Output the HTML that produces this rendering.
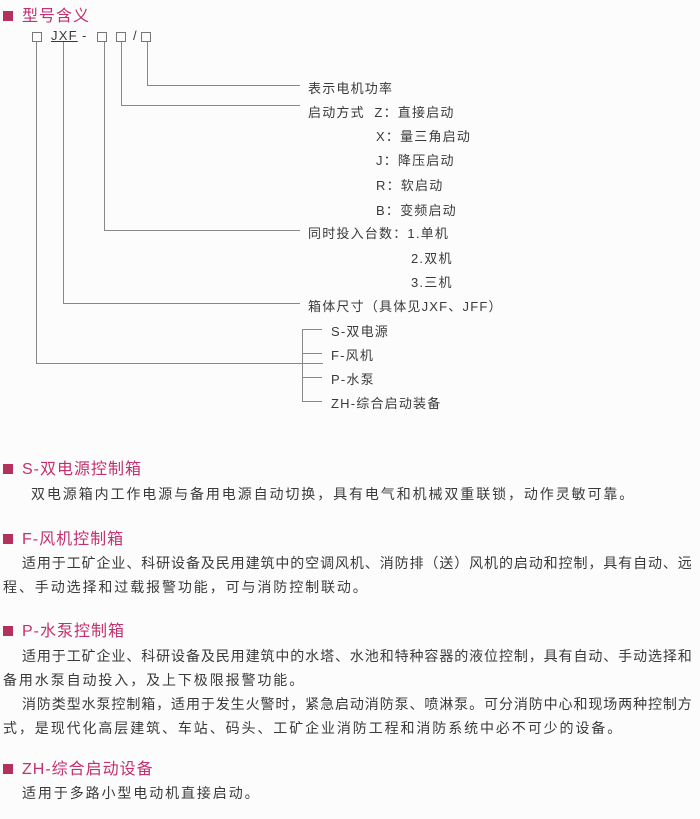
<!DOCTYPE html>
<html><head><meta charset="utf-8"><style>
body{margin:0;width:700px;height:819px;background:#fdfcfc;position:relative;overflow:hidden;font-family:"Liberation Sans","Noto Sans CJK SC",sans-serif;color:#3a3a3a}
.a{position:absolute;white-space:nowrap}
.h{font-size:16px;color:#c2306f;letter-spacing:1px}
.h:before{content:"";display:inline-block;width:10px;height:10px;background:#b3305f;margin-right:9px;vertical-align:0px}
.l{font-size:13px;letter-spacing:1.2px}
.b{font-size:14px;letter-spacing:1.9px}
.j{text-align:justify;text-align-last:justify;white-space:nowrap;letter-spacing:0.2px}
.box{position:absolute;width:8px;height:8px;border:1px solid #777;top:32px}
.v{position:absolute;width:1px;background:#888}
.hz{position:absolute;height:1px;background:#888}
</style></head><body>
<div class="a h" style="left:3px;top:2px">型号含义</div>
<div class="box" style="left:32px"></div>
<div class="a l" style="left:51px;top:28px;text-decoration:underline">JXF</div>
<div class="a l" style="left:82px;top:28px">-</div>
<div class="box" style="left:97px"></div>
<div class="box" style="left:116px"></div>
<div class="a l" style="left:133px;top:28px">/</div>
<div class="box" style="left:141px"></div>

<div class="v" style="left:36px;top:42px;height:322px"></div>
<div class="hz" style="left:36px;top:363px;width:287px"></div>
<div class="v" style="left:63px;top:42px;height:262px"></div>
<div class="hz" style="left:63px;top:303px;width:237px"></div>
<div class="v" style="left:104px;top:42px;height:189px"></div>
<div class="hz" style="left:104px;top:230px;width:196px"></div>
<div class="v" style="left:121px;top:42px;height:64px"></div>
<div class="hz" style="left:121px;top:105px;width:179px"></div>
<div class="v" style="left:147px;top:42px;height:44px"></div>
<div class="hz" style="left:147px;top:85px;width:153px"></div>

<div class="v" style="left:302px;top:329px;height:72px"></div>
<div class="hz" style="left:302px;top:329px;width:20px"></div>
<div class="hz" style="left:302px;top:353px;width:20px"></div>
<div class="hz" style="left:302px;top:377px;width:20px"></div>
<div class="hz" style="left:302px;top:401px;width:20px"></div>

<div class="a l" style="left:308px;top:78px">表示电机功率</div>
<div class="a l" style="left:308px;top:102px">启动方式&nbsp; Z：直接启动</div>
<div class="a l" style="left:376px;top:126px">X：量三角启动</div>
<div class="a l" style="left:376px;top:150px">J：降压启动</div>
<div class="a l" style="left:376px;top:175px">R：软启动</div>
<div class="a l" style="left:376px;top:200px">B：变频启动</div>
<div class="a l" style="left:308px;top:223px">同时投入台数：1.单机</div>
<div class="a l" style="left:411px;top:248px">2.双机</div>
<div class="a l" style="left:411px;top:272px">3.三机</div>
<div class="a l" style="left:308px;top:296px">箱体尺寸（具体见JXF、JFF）</div>
<div class="a l" style="left:331px;top:321px">S-双电源</div>
<div class="a l" style="left:331px;top:345px">F-风机</div>
<div class="a l" style="left:331px;top:369px">P-水泵</div>
<div class="a l" style="left:331px;top:393px">ZH-综合启动装备</div>

<div class="a h" style="left:3px;top:455px">S-双电源控制箱</div>
<div class="a b" style="left:31px;top:484px">双电源箱内工作电源与备用电源自动切换，具有电气和机械双重联锁，动作灵敏可靠。</div>

<div class="a h" style="left:3px;top:525px">F-风机控制箱</div>
<div class="a b j" style="left:22px;top:553px;width:670px">适用于工矿企业、科研设备及民用建筑中的空调风机、消防排（送）风机的启动和控制，具有自动、远</div>
<div class="a b" style="left:3px;top:577px">程、手动选择和过载报警功能，可与消防控制联动。</div>

<div class="a h" style="left:3px;top:617px">P-水泵控制箱</div>
<div class="a b j" style="left:22px;top:646px;width:670px">适用于工矿企业、科研设备及民用建筑中的水塔、水池和特种容器的液位控制，具有自动、手动选择和</div>
<div class="a b" style="left:3px;top:670px">备用水泵自动投入，及上下极限报警功能。</div>
<div class="a b j" style="left:22px;top:694px;width:670px">消防类型水泵控制箱，适用于发生火警时，紧急启动消防泵、喷淋泵。可分消防中心和现场两种控制方</div>
<div class="a b" style="left:3px;top:718px">式，是现代化高层建筑、车站、码头、工矿企业消防工程和消防系统中必不可少的设备。</div>

<div class="a h" style="left:3px;top:755px">ZH-综合启动设备</div>
<div class="a b" style="left:22px;top:783px">适用于多路小型电动机直接启动。</div>
</body></html>
